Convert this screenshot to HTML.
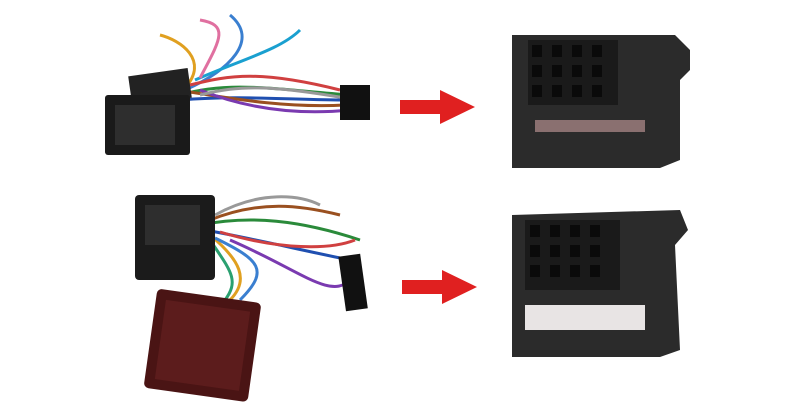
<!DOCTYPE html>
<html><head><meta charset="utf-8"><style>html,body{margin:0;padding:0;background:#fff;width:800px;height:418px;overflow:hidden}</style></head>
<body>
<svg width="800" height="418" viewBox="0 0 800 418" xmlns="http://www.w3.org/2000/svg">
<rect width="800" height="418" fill="#fff"/>
<!-- top harness wires -->
<g fill="none" stroke-width="3">
<path d="M180 95 C230 80 280 90 350 95" stroke="#2a8a3a"/>
<path d="M180 100 C240 95 290 100 350 100" stroke="#1f4fb0"/>
<path d="M185 90 C230 70 260 40 230 15" stroke="#3a7fd0"/>
<path d="M185 88 C210 60 180 40 160 35" stroke="#e0a020"/>
<path d="M190 92 C240 100 290 108 345 105" stroke="#9a5020"/>
<path d="M195 80 C240 60 280 50 300 30" stroke="#1aa0d0"/>
<path d="M190 85 C230 75 260 70 340 90" stroke="#d04040"/>
<path d="M200 90 C250 110 300 115 350 110" stroke="#7a3ab0"/>
<path d="M200 78 C220 40 230 25 200 20" stroke="#e070a0"/>
<path d="M200 95 C240 85 270 85 345 98" stroke="#999"/>
</g>
<rect x="340" y="85" width="30" height="35" fill="#111"/>
<rect x="130" y="72" width="60" height="30" fill="#222" transform="rotate(-8 160 87)"/>
<rect x="105" y="95" width="85" height="60" fill="#1a1a1a" rx="3"/>
<rect x="115" y="105" width="60" height="40" fill="#2e2e2e"/>
<!-- bottom harness -->
<g fill="none" stroke-width="3">
<path d="M200 225 C250 215 300 220 360 240" stroke="#2a8a3a"/>
<path d="M205 230 C260 240 300 250 350 260" stroke="#1f4fb0"/>
<path d="M210 220 C260 200 300 205 340 215" stroke="#9a5020"/>
<path d="M210 235 C240 260 250 280 230 300" stroke="#e0a020"/>
<path d="M215 238 C260 260 270 270 240 300" stroke="#3a7fd0"/>
<path d="M220 232 C280 250 330 250 355 240" stroke="#d04040"/>
<path d="M215 215 C260 190 300 195 320 205" stroke="#999"/>
<path d="M210 240 C230 270 240 280 225 300" stroke="#2aa070"/>
<path d="M230 240 C300 270 330 300 350 280" stroke="#7a3ab0"/>
</g>
<rect x="342" y="255" width="22" height="55" fill="#111" transform="rotate(-8 353 282)"/>
<rect x="135" y="195" width="80" height="85" fill="#1b1b1b" rx="4"/>
<rect x="145" y="205" width="55" height="40" fill="#2e2e2e"/>
<rect x="150" y="295" width="105" height="100" fill="#4a1414" rx="5" transform="rotate(8 200 345)"/>
<rect x="160" y="305" width="85" height="80" fill="#5c1c1c" transform="rotate(8 200 345)"/>
<!-- arrows -->
<polygon points="400,100 440,100 440,90 475,107 440,124 440,114 400,114" fill="#e02020"/>
<polygon points="402,280 442,280 442,270 477,287 442,304 442,294 402,294" fill="#e02020"/>
<!-- top right connector -->
<path d="M512 35 L675 35 L690 50 L690 70 L680 80 L680 160 L660 168 L512 168 Z" fill="#2b2b2b"/>
<rect x="528" y="40" width="90" height="65" fill="#1a1a1a"/>
<g fill="#0a0a0a">
<rect x="532" y="45" width="10" height="12"/><rect x="552" y="45" width="10" height="12"/><rect x="572" y="45" width="10" height="12"/><rect x="592" y="45" width="10" height="12"/>
<rect x="532" y="65" width="10" height="12"/><rect x="552" y="65" width="10" height="12"/><rect x="572" y="65" width="10" height="12"/><rect x="592" y="65" width="10" height="12"/>
<rect x="532" y="85" width="10" height="12"/><rect x="552" y="85" width="10" height="12"/><rect x="572" y="85" width="10" height="12"/><rect x="592" y="85" width="10" height="12"/>
</g>
<rect x="535" y="120" width="110" height="12" fill="#8a7070"/>
<!-- bottom right connector -->
<path d="M512 215 L680 210 L688 230 L675 245 L680 350 L660 357 L512 357 Z" fill="#2b2b2b"/>
<rect x="525" y="220" width="95" height="70" fill="#1a1a1a"/>
<g fill="#0a0a0a">
<rect x="530" y="225" width="10" height="12"/><rect x="550" y="225" width="10" height="12"/><rect x="570" y="225" width="10" height="12"/><rect x="590" y="225" width="10" height="12"/>
<rect x="530" y="245" width="10" height="12"/><rect x="550" y="245" width="10" height="12"/><rect x="570" y="245" width="10" height="12"/><rect x="590" y="245" width="10" height="12"/>
<rect x="530" y="265" width="10" height="12"/><rect x="550" y="265" width="10" height="12"/><rect x="570" y="265" width="10" height="12"/><rect x="590" y="265" width="10" height="12"/>
</g>
<rect x="525" y="305" width="120" height="25" fill="#e8e4e4"/>
</svg>
</body></html>
